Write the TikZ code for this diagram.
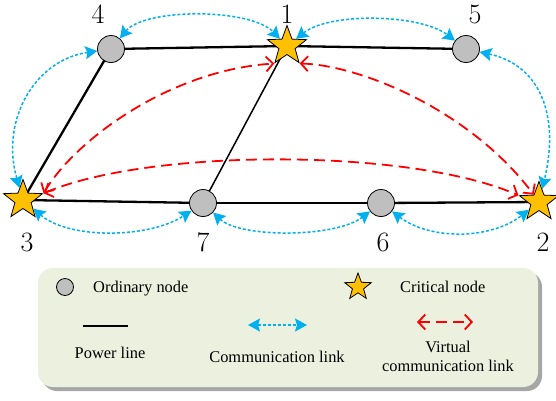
\documentclass[tikz,border=0pt]{standalone}
\usepackage{fontspec}
\newfontfamily\legfont{Liberation Serif}
\usetikzlibrary{shapes.geometric,arrows.meta,shadows,backgrounds}
\definecolor{commblue}{HTML}{00B0F0}
\definecolor{starfill}{HTML}{FFC000}
\definecolor{nodegray}{HTML}{BFBFBF}
\definecolor{legfill}{HTML}{EBF1DE}
\begin{document}
\begin{tikzpicture}[x=1pt,y=-1pt,
 ordnode/.style={circle,draw=black,fill=nodegray,line width=0.8pt,minimum size=27pt,inner sep=0pt},
 critnode/.style={star,star points=5,star point ratio=2.4,draw=black,fill=starfill,line width=0.8pt,minimum size=41pt,inner sep=0pt},
 numlabel/.style={inner sep=0pt,anchor=base,font=\fontsize{28}{30}\selectfont},
 powerline/.style={line width=2.3pt,black},
 thinpower/.style={line width=1.5pt,black},
 commlink/.style={commblue,line width=1.5pt,dash pattern=on 3pt off 2pt,{Stealth[length=12pt,width=13pt,inset=2pt]}-{Stealth[length=12pt,width=13pt,inset=2pt]}},
 virtlink/.style={red,line width=1.8pt,dash pattern=on 11pt off 6pt,{Straight Barb[length=7pt,width=15pt]}-{Straight Barb[length=7pt,width=15pt]}},
 legtext/.style={font=\legfont\fontsize{16.4}{20}\selectfont,inner sep=0pt},
 legendbox/.style={fill=legfill,rounded corners=15pt,minimum width=500pt,minimum height=119pt,inner sep=0pt,
   drop shadow={shadow xshift=4pt,shadow yshift=-4pt,fill=black,opacity=0.35}}
]
\useasboundingbox (0,0) rectangle (556,400);

% nodes
\node[ordnode] (n4) at (111,49) {};
\node[critnode] (n1) at (287,46) {};
\node[ordnode] (n5) at (466,49) {};
\node[critnode] (n3) at (23,200) {};
\node[ordnode] (n7) at (203,203) {};
\node[ordnode] (n6) at (381,203) {};
\node[critnode] (n2) at (539,202) {};

% labels
\node[numlabel] (l4) at (98,23) {4};
\node[numlabel] (l1) at (287,23) {1};
\node[numlabel] (l5) at (475,23) {5};
\node[numlabel] (l3) at (27,251) {3};
\node[numlabel] (l7) at (203,251) {7};
\node[numlabel] (l6) at (383,251) {6};
\node[numlabel] (l2) at (543,251) {2};

% power lines
\begin{scope}[on background layer]
\draw[powerline] (n4.center) -- (n1.center);
\draw[powerline] (n1.center) -- (n5.center);
\draw[powerline] (n4.center) -- (n3.center);
\draw[powerline] (n3.center) -- (n7.center);
\draw[powerline] (n7.center) -- (n6.center);
\draw[powerline] (n6.center) -- (n2.center);
\draw[thinpower] (n1.center) -- (n7.center);
\end{scope}

% communication links
\draw[commlink] (n4) .. controls (145,8) and (250,8) .. (n1);
\draw[commlink] (n1) .. controls (330,12) and (420,14) .. (n5);
\draw[commlink] (n4) .. controls (35,60) and (0,120) .. (n3);
\draw[commlink] (n5) .. controls (540,65) and (560,115) .. (n2);
\draw[commlink] (n3) .. controls (70,240) and (150,238) .. (n7);
\draw[commlink] (n7) .. controls (240,238) and (335,238) .. (n6);
\draw[commlink] (n6) .. controls (430,240) and (490,240) .. (n2);

% virtual links
\draw[virtlink] (n3.18) .. controls (75,140) and (170,70) .. (n1.234);
\draw[virtlink] (n1.306) .. controls (360,65) and (470,110) .. (n2.126);
\draw[virtlink] (n3.18) .. controls (150,148) and (410,148) .. (n2.162);

% legend
\node[legendbox] (legend) at (288,327.5) {};
\node[ordnode,minimum size=17pt] (lgord) at (65,287) {};
\node[legtext,anchor=base west] (lgordtxt) at (93,292.5) {Ordinary node};
\node[critnode,minimum size=28pt] (lgcrit) at (358,287) {};
\node[legtext,anchor=base west] (lgcrittxt) at (400,292.5) {Critical node};
\coordinate (pl1) at (83,326);
\coordinate (pl2) at (128,326);
\draw[powerline,line width=2.7pt] (pl1) -- (pl2);
\node[legtext,anchor=base] (lgpltxt) at (110,358) {Power line};
\coordinate (cl1) at (248,325);
\coordinate (cl2) at (307,325);
\draw[commlink] (cl1) -- (cl2);
\node[legtext,anchor=base] (lgcltxt) at (277,362) {Communication link};
\coordinate (vl1) at (417,322);
\coordinate (vl2) at (473,322);
\draw[virtlink] (vl1) -- (vl2);
\node[legtext,anchor=base] (lgvltxt1) at (448,352) {Virtual};
\node[legtext,anchor=base] (lgvltxt2) at (448,371) {communication link};
\end{tikzpicture}
\end{document}
